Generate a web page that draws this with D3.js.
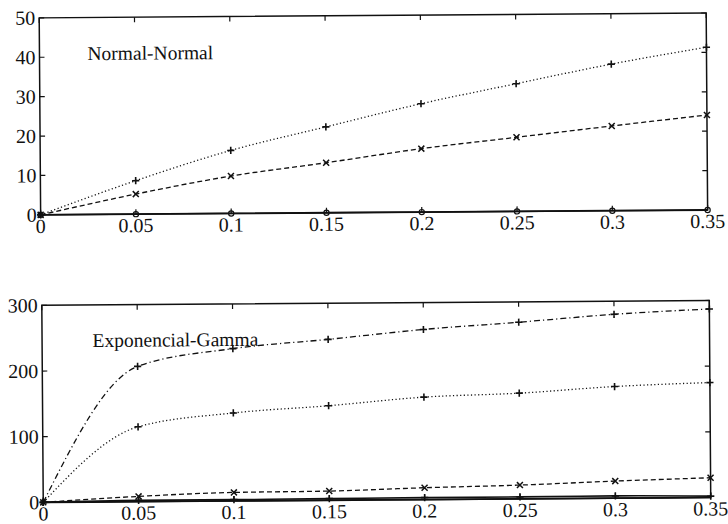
<!DOCTYPE html>
<html>
<head>
<meta charset="utf-8">
<script src="https://cdn.jsdelivr.net/npm/d3@7"></script>
<style>
  body { margin: 0; background: #fff; }
  svg { display: block; }
  svg text { font-family: "Liberation Serif", "Times New Roman", Times, "DejaVu Serif", serif; }
</style>
</head>
<body>
<svg width="728" height="524"></svg>
<script>
const xs = [0, 0.05, 0.1, 0.15, 0.2, 0.25, 0.3, 0.35]
const xTicks = [0, 0.05, 0.1, 0.15, 0.2, 0.25, 0.3, 0.35]

// Normal-Normal
const nnDotted = [0, 8.5, 16.0, 21.8, 27.5, 32.4, 37.2, 41.3]
const nnDashed = [0, 5.1, 9.5, 12.7, 16.1, 18.8, 21.5, 24.1]
const nnSolid  = [0, 0, 0, 0, 0, 0, 0, 0]
const nnTicks  = [0, 10, 20, 30, 40, 50]

// Exponencial-Gamma
const egDashDot = [0, 206, 232, 245, 259, 269, 280, 287]
const egDotted  = [0, 114, 134, 144, 156, 161, 170, 175]
const egDashed  = [0, 8, 13, 14, 18, 21, 26, 30]
const egSolid   = [0, 2, 2, 2.5, 3, 3, 3.5, 2]
const egZero    = [0, 0, 0, 0, 0, 0, 0, 0]
const egTicks   = [0, 100, 200, 300]

const svg = d3.select('svg')
// the scanned figure is tilted a little
const root = svg.append('g').attr('transform', 'rotate(-0.42, 364, 262)')

function marker(g, type, x, y) {
	let s = 3.6
	if (type === '+') {
		g.append('path').attr('d', `M${x - s},${y}H${x + s}M${x},${y - s}V${y + s}`)
		.attr('stroke', '#111').attr('stroke-width', 1.6)
	} else if (type === 'x') {
		s = 3
		g.append('path').attr('d', `M${x - s},${y - s}L${x + s},${y + s}M${x - s},${y + s}L${x + s},${y - s}`)
		.attr('stroke', '#111').attr('stroke-width', 1.5)
	} else if (type === 'o') {
		g.append('circle').attr('cx', x).attr('cy', y).attr('r', 2.6)
		.attr('fill', 'none').attr('stroke', '#111').attr('stroke-width', 1.2)
	}
}

function panel(box, yMax, yTicks, series, label) {
	let g = root.append('g')
	let x = d3.scaleLinear().domain([0, 0.35]).range([box.left, box.right])
	let y = d3.scaleLinear().domain([0, yMax]).range([box.bottom, box.top])

	series.forEach(s => {
		let line = d3.line()
		.x((d, i) => x(xs[i]))
		.y(d => y(d))
		.curve(d3.curveMonotoneX)
		g.append('path').datum(s.values)
		.attr('d', line)
		.attr('fill', 'none')
		.attr('stroke', '#111')
		.attr('stroke-width', s.width || 1.3)
		.attr('stroke-dasharray', s.dash)
		s.values.forEach((v, i) => marker(g, s.marker, x(xs[i]), y(v)))
	})

	// frame
	g.append('rect')
	.attr('x', box.left).attr('y', box.top)
	.attr('width', box.right - box.left).attr('height', box.bottom - box.top)
	.attr('fill', 'none').attr('stroke', '#111').attr('stroke-width', 1.5)

	// inward ticks, all four sides
	let tl = 5
	g.selectAll('.xt').data(xTicks).enter().append('path')
	.attr('d', d => `M${x(d)},${box.bottom}v${-tl}M${x(d)},${box.top}v${tl}`)
	.attr('stroke', '#111').attr('stroke-width', 1.2)
	g.selectAll('.yt').data(yTicks).enter().append('path')
	.attr('d', d => `M${box.left},${y(d)}h${tl}M${box.right},${y(d)}h${-tl}`)
	.attr('stroke', '#111').attr('stroke-width', 1.2)

	g.selectAll('.xl').data(xTicks).enter().append('text')
	.attr('x', d => x(d))
	.attr('y', box.bottom + box.xlab)
	.attr('text-anchor', 'middle')
	.attr('font-size', 20)
	.attr('fill', '#111')
	.text(d => d3.format('')(d))

	g.selectAll('.yl').data(yTicks).enter().append('text')
	.attr('x', box.left - 4)
	.attr('y', d => y(d))
	.attr('dy', '0.34em')
	.attr('text-anchor', 'end')
	.attr('font-size', 20)
	.attr('fill', '#111')
	.text(d => d)

	g.append('text')
	.attr('x', label.x).attr('y', label.y)
	.attr('font-size', 19.5)
	.attr('fill', '#111')
	.text(label.text)
}

panel({ left: 41, right: 708, top: 15.5, bottom: 212.5, xlab: 18 }, 50, nnTicks, [
	{ values: nnDotted, dash: '1.2,2.4', marker: '+' },
	{ values: nnDashed, dash: '5,3', marker: 'x' },
	{ values: nnSolid, dash: null, marker: 'o', width: 1.8 }
], { x: 89, y: 58, text: 'Normal-Normal' })

panel({ left: 41.5, right: 709, top: 303, bottom: 500, xlab: 18 }, 300, egTicks, [
	{ values: egDashDot, dash: '6,3,1.2,3', marker: '+' },
	{ values: egDotted, dash: '1.2,2.4', marker: '+' },
	{ values: egDashed, dash: '5,3', marker: 'x' },
	{ values: egZero, dash: null, marker: null, width: 1.8 },
	{ values: egSolid, dash: null, marker: '+', width: 1.6 }
], { x: 92, y: 345, text: 'Exponencial-Gamma' })
</script>
</body>
</html>
